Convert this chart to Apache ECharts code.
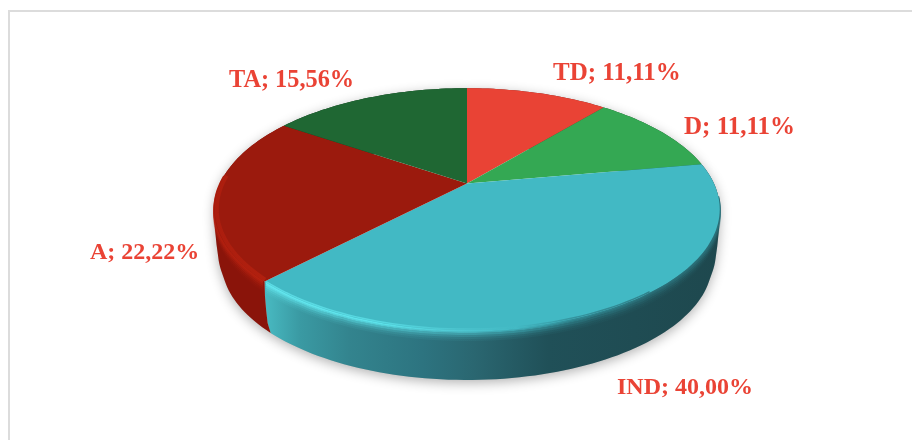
<!DOCTYPE html>
<html>
<head>
<meta charset="utf-8">
<style>html,body{margin:0;padding:0;background:#fff}#c{width:912px;height:440px}</style>
<script src="https://cdn.jsdelivr.net/npm/echarts@6/dist/echarts.min.js"></script>
</head>
<body>
<div id="c"></div>
<script>
const categories = ['TD', 'D', 'IND', 'A', 'TA'];
const shares = [11.11, 11.11, 40.00, 22.22, 15.56];

const topColors = ['#e94335', '#34a853', '#42b9c4', '#9b1a0d', '#1f6733'];
const wallColors = ['#8c2820', '#1f6432', null, '#8a140a', '#123d1e'];
const labelAnchors = [[553, 74], [684, 128], [617, 388], [90, 253], [229, 81]];
const labelSizes = [25, 25, 24, 24, 24.3];

// Perspective view of the pie disc
const view = { cx: 467, cy: 183.5, a: 247, b: 115.5, k: 0.212 };
// Wall profile: [scale, drop] from the top edge down to the foot, rounding the lower corner
const wallRings = [[1, 0], [0.998, 15], [0.992, 30], [0.985, 43], [0.97, 54.3]];

function project(deg, ring) {
  const t = deg * Math.PI / 180, x = Math.sin(t), y = Math.cos(t), d = 1 + view.k * y;
  return [view.cx + ring[0] * view.a * x / d, view.cy + ring[1] - ring[0] * view.b * y / d];
}
function arc(a0, a1, ring) {
  const n = Math.max(2, Math.ceil(Math.abs(a1 - a0) / 1.5)), out = [];
  for (let i = 0; i <= n; i++) out.push(project(a0 + (a1 - a0) * i / n, ring));
  return out;
}
function wallPath(a0, a1) {
  let d = '';
  for (let r = 0; r + 1 < wallRings.length; r++) {
    const up = arc(a0, a1, wallRings[r]), lo = arc(a0, a1, wallRings[r + 1]);
    for (let j = 0; j + 1 < up.length; j++) {
      let q = [up[j], up[j + 1], lo[j + 1], lo[j]];
      let area = 0;
      q.forEach((p, m) => { const n = q[(m + 1) % 4]; area += p[0] * n[1] - n[0] * p[1]; });
      if (area < 0) q = q.reverse();
      d += 'M' + q.map(p => p[0].toFixed(2) + ' ' + p[1].toFixed(2)).join('L') + 'Z';
    }
  }
  return d;
}
function hGrad(x0, x1, stops) {
  return { type: 'linear', x: x0, y: 0, x2: x1, y2: 0, global: true,
    colorStops: stops.map(s => ({ offset: s[0], color: s[1] })) };
}
const indWall = hGrad(268, 720, [[0, '#47b7bf'], [0.07, '#3a9aa3'], [0.18, '#33848e'], [0.34, '#2d7480'],
  [0.46, '#2a6670'], [0.62, '#205058'], [1, '#1e484e']]);
const indRim = hGrad(268, 720, [[0, '#63e6ee'], [0.25, '#5ce2ea'], [0.42, '#4fc8d2'], [0.55, '#42b9c4'],
  [0.68, '#2f8791'], [0.85, '#2a6f78'], [1, '#2a6f78']]);
const redRim = hGrad(214, 272, [[0, '#b01e0e'], [0.5, '#b3200f'], [1, '#b8220f']]);
const bevelSteps = [[0.5, 1], [2, 0.8], [4, 0.55], [6, 0.32], [8, 0.16], [10, 0.07]];

const total = shares.reduce((p, v) => p + v, 0);
const seriesData = categories.map((c, i) => [c, shares[i]]);

function bevel(a0, a1, stroke) {
  return bevelSteps.map(s => ({
    type: 'polyline', z2: 2,
    shape: { points: arc(a0, a1, [1, 0]).map(p => [p[0], p[1] + s[0]]) },
    style: { fill: null, stroke: stroke, lineWidth: 2, opacity: s[1] }
  }));
}

function renderSlice(params, api) {
  const i = params.dataIndex;
  const a0 = shares.slice(0, i).reduce((p, v) => p + v, 0) / total * 360;
  const a1 = a0 + api.value(1) / total * 360;
  const wall = wallPath(a0, a1);
  let children = [
    { type: 'path', z2: 0, shape: { pathData: wall },
      style: { fill: '#bbb', shadowBlur: 12, shadowColor: 'rgba(0,0,0,0.3)', shadowOffsetY: 3 } },
    { type: 'path', z2: 1, shape: { pathData: wall },
      style: { fill: wallColors[i] || indWall } },
    { type: 'polygon', z2: 3, shape: { points: [[view.cx, view.cy]].concat(arc(a0, a1, [1, 0])) },
      style: { fill: topColors[i] } }
  ];
  if (categories[i] === 'IND') {
    children = children.concat(bevel(a0 + 16, a1 - 0.5, indRim));
    children.push({ type: 'polyline', z2: 4,
      shape: { points: arc(a0 + 62, a1 - 0.5, [1, 0]).map(p => [p[0], p[1] - 1]) },
      style: { fill: null, stroke: indRim, lineWidth: 1.5, opacity: 0.75 } });
  }
  if (categories[i] === 'A') {
    children = children.concat(bevel(a0 + 0.5, a0 + 50, redRim));
    children.push({ type: 'polyline', z2: 4,
      shape: { points: arc(a0 + 0.5, a0 + 50, [0.99, 0]) },
      style: { fill: null, stroke: redRim, lineWidth: 4, opacity: 0.8 } });
  }
  const anchor = labelAnchors[i];
  children.push({ type: 'text', z2: 10, x: anchor[0], y: anchor[1],
    style: {
      text: api.value(0) + '; ' + api.value(1).toFixed(2).replace('.', ',') + '%',
      fill: '#ea4335', font: 'bold ' + labelSizes[i] + 'px "Liberation Serif", serif',
      align: 'left', verticalAlign: 'middle'
    } });
  return { type: 'group', children };
}

const chart = echarts.init(document.getElementById('c'), null, { renderer: 'canvas', width: 912, height: 440 });
chart.setOption({
  animation: false,
  backgroundColor: '#ffffff',
  graphic: [
    { type: 'polyline', silent: true, shape: { points: [[9, 440], [9, 11], [912, 11]] },
      style: { fill: null, stroke: '#dcdcdc', lineWidth: 2 } }
  ],
  series: [{
    type: 'custom',
    coordinateSystem: 'none',
    encode: { itemName: 0, value: 1 },
    data: seriesData,
    renderItem: renderSlice
  }]
});
</script>
</body>
</html>
